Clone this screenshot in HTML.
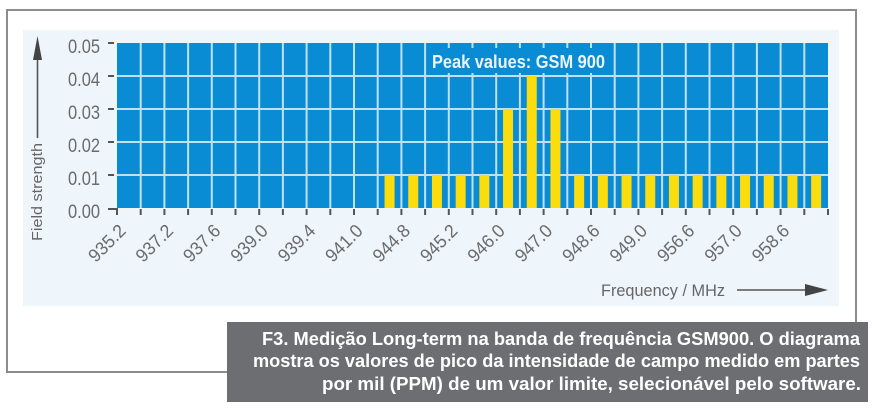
<!DOCTYPE html>
<html><head><meta charset="utf-8"><style>
html,body{margin:0;padding:0;background:#fff;}
svg{display:block;}
</style></head><body>
<svg width="873" height="413" viewBox="0 0 873 413" xmlns="http://www.w3.org/2000/svg">
<rect x="0" y="0" width="873" height="413" fill="#ffffff"/>
<!-- outer border -->
<g stroke="#8c8c8c" stroke-width="2" fill="none">
<line x1="6" y1="10" x2="857" y2="10"/>
<line x1="7" y1="10" x2="7" y2="373"/>
<line x1="6" y1="372" x2="228" y2="372"/>
<line x1="856" y1="9" x2="856" y2="323"/>
</g>
<!-- light panel -->
<rect x="23" y="30" width="816" height="276" fill="#eef5fb"/>
<!-- plot -->
<rect x="117" y="43" width="711" height="165" fill="#0a8cd4"/>
<g stroke="#bfe0f5" stroke-width="2">
<line x1="117" y1="76" x2="828" y2="76"/>
<line x1="117" y1="109" x2="828" y2="109"/>
<line x1="117" y1="142" x2="828" y2="142"/>
<line x1="117" y1="175" x2="828" y2="175"/>
<line x1="140.7" y1="43" x2="140.7" y2="208"/>
<line x1="164.4" y1="43" x2="164.4" y2="208"/>
<line x1="188.1" y1="43" x2="188.1" y2="208"/>
<line x1="211.8" y1="43" x2="211.8" y2="208"/>
<line x1="235.5" y1="43" x2="235.5" y2="208"/>
<line x1="259.2" y1="43" x2="259.2" y2="208"/>
<line x1="282.9" y1="43" x2="282.9" y2="208"/>
<line x1="306.6" y1="43" x2="306.6" y2="208"/>
<line x1="330.3" y1="43" x2="330.3" y2="208"/>
<line x1="354" y1="43" x2="354" y2="208"/>
<line x1="377.7" y1="43" x2="377.7" y2="208"/>
<line x1="401.4" y1="43" x2="401.4" y2="208"/>
<line x1="425.1" y1="43" x2="425.1" y2="208"/>
<line x1="448.8" y1="43" x2="448.8" y2="208"/>
<line x1="472.5" y1="43" x2="472.5" y2="208"/>
<line x1="496.2" y1="43" x2="496.2" y2="208"/>
<line x1="519.9" y1="43" x2="519.9" y2="208"/>
<line x1="543.6" y1="43" x2="543.6" y2="208"/>
<line x1="567.3" y1="43" x2="567.3" y2="208"/>
<line x1="591" y1="43" x2="591" y2="208"/>
<line x1="614.7" y1="43" x2="614.7" y2="208"/>
<line x1="638.4" y1="43" x2="638.4" y2="208"/>
<line x1="662.1" y1="43" x2="662.1" y2="208"/>
<line x1="685.8" y1="43" x2="685.8" y2="208"/>
<line x1="709.5" y1="43" x2="709.5" y2="208"/>
<line x1="733.2" y1="43" x2="733.2" y2="208"/>
<line x1="756.9" y1="43" x2="756.9" y2="208"/>
<line x1="780.6" y1="43" x2="780.6" y2="208"/>
<line x1="804.3" y1="43" x2="804.3" y2="208"/>
</g>
<!-- label background -->
<rect x="428" y="48" width="182" height="25" fill="#0a8cd4"/>
<text x="432" y="68" font-family="Liberation Sans, sans-serif" font-weight="bold" font-size="18" fill="#eaf4fb" textLength="173" lengthAdjust="spacingAndGlyphs">Peak values: GSM 900</text>
<!-- bars -->
<g fill="#fbdc0c">
<rect x="384.55" y="175" width="10" height="33"/>
<rect x="408.25" y="175" width="10" height="33"/>
<rect x="431.95" y="175" width="10" height="33"/>
<rect x="455.65" y="175" width="10" height="33"/>
<rect x="479.35" y="175" width="10" height="33"/>
<rect x="503.05" y="109" width="10" height="99"/>
<rect x="526.75" y="76" width="10" height="132"/>
<rect x="550.45" y="109" width="10" height="99"/>
<rect x="574.15" y="175" width="10" height="33"/>
<rect x="597.85" y="175" width="10" height="33"/>
<rect x="621.55" y="175" width="10" height="33"/>
<rect x="645.25" y="175" width="10" height="33"/>
<rect x="668.95" y="175" width="10" height="33"/>
<rect x="692.65" y="175" width="10" height="33"/>
<rect x="716.35" y="175" width="10" height="33"/>
<rect x="740.05" y="175" width="10" height="33"/>
<rect x="763.75" y="175" width="10" height="33"/>
<rect x="787.45" y="175" width="10" height="33"/>
<rect x="811.15" y="175" width="10" height="33"/>
</g>
<!-- ticks -->
<g stroke="#555" stroke-width="2">
<line x1="108" y1="43" x2="114" y2="43"/>
<line x1="108" y1="76" x2="114" y2="76"/>
<line x1="108" y1="109" x2="114" y2="109"/>
<line x1="108" y1="142" x2="114" y2="142"/>
<line x1="108" y1="175" x2="114" y2="175"/>
<line x1="108" y1="209" x2="117" y2="209"/>
<line x1="117" y1="208" x2="117" y2="215"/>
<line x1="140.7" y1="209" x2="140.7" y2="215"/>
<line x1="164.4" y1="209" x2="164.4" y2="215"/>
<line x1="188.1" y1="209" x2="188.1" y2="215"/>
<line x1="211.8" y1="209" x2="211.8" y2="215"/>
<line x1="235.5" y1="209" x2="235.5" y2="215"/>
<line x1="259.2" y1="209" x2="259.2" y2="215"/>
<line x1="282.9" y1="209" x2="282.9" y2="215"/>
<line x1="306.6" y1="209" x2="306.6" y2="215"/>
<line x1="330.3" y1="209" x2="330.3" y2="215"/>
<line x1="354" y1="209" x2="354" y2="215"/>
<line x1="377.7" y1="209" x2="377.7" y2="215"/>
<line x1="401.4" y1="209" x2="401.4" y2="215"/>
<line x1="425.1" y1="209" x2="425.1" y2="215"/>
<line x1="448.8" y1="209" x2="448.8" y2="215"/>
<line x1="472.5" y1="209" x2="472.5" y2="215"/>
<line x1="496.2" y1="209" x2="496.2" y2="215"/>
<line x1="519.9" y1="209" x2="519.9" y2="215"/>
<line x1="543.6" y1="209" x2="543.6" y2="215"/>
<line x1="567.3" y1="209" x2="567.3" y2="215"/>
<line x1="591" y1="209" x2="591" y2="215"/>
<line x1="614.7" y1="209" x2="614.7" y2="215"/>
<line x1="638.4" y1="209" x2="638.4" y2="215"/>
<line x1="662.1" y1="209" x2="662.1" y2="215"/>
<line x1="685.8" y1="209" x2="685.8" y2="215"/>
<line x1="709.5" y1="209" x2="709.5" y2="215"/>
<line x1="733.2" y1="209" x2="733.2" y2="215"/>
<line x1="756.9" y1="209" x2="756.9" y2="215"/>
<line x1="780.6" y1="209" x2="780.6" y2="215"/>
<line x1="804.3" y1="209" x2="804.3" y2="215"/>
<line x1="828" y1="209" x2="828" y2="215"/>
</g>
<!-- y labels -->
<g font-family="Liberation Sans, sans-serif" font-size="19" fill="#6b6b6b" text-anchor="end">
<text x="100" y="53" textLength="32" lengthAdjust="spacingAndGlyphs">0.05</text>
<text x="100" y="86" textLength="32" lengthAdjust="spacingAndGlyphs">0.04</text>
<text x="100" y="119" textLength="32" lengthAdjust="spacingAndGlyphs">0.03</text>
<text x="100" y="152" textLength="32" lengthAdjust="spacingAndGlyphs">0.02</text>
<text x="100" y="185" textLength="32" lengthAdjust="spacingAndGlyphs">0.01</text>
<text x="100" y="218" textLength="32" lengthAdjust="spacingAndGlyphs">0.00</text>
</g>
<!-- x labels -->
<g font-family="Liberation Sans, sans-serif" font-size="18.5" fill="#6b6b6b" text-anchor="end">
<text transform="translate(126.9,232) rotate(-45)" textLength="44" lengthAdjust="spacingAndGlyphs">935.2</text>
<text transform="translate(174.3,232) rotate(-45)" textLength="44" lengthAdjust="spacingAndGlyphs">937.2</text>
<text transform="translate(221.7,232) rotate(-45)" textLength="44" lengthAdjust="spacingAndGlyphs">937.6</text>
<text transform="translate(269.1,232) rotate(-45)" textLength="44" lengthAdjust="spacingAndGlyphs">939.0</text>
<text transform="translate(316.5,232) rotate(-45)" textLength="44" lengthAdjust="spacingAndGlyphs">939.4</text>
<text transform="translate(363.9,232) rotate(-45)" textLength="44" lengthAdjust="spacingAndGlyphs">941.0</text>
<text transform="translate(411.3,232) rotate(-45)" textLength="44" lengthAdjust="spacingAndGlyphs">944.8</text>
<text transform="translate(458.7,232) rotate(-45)" textLength="44" lengthAdjust="spacingAndGlyphs">945.2</text>
<text transform="translate(506.1,232) rotate(-45)" textLength="44" lengthAdjust="spacingAndGlyphs">946.0</text>
<text transform="translate(553.5,232) rotate(-45)" textLength="44" lengthAdjust="spacingAndGlyphs">947.0</text>
<text transform="translate(600.9,232) rotate(-45)" textLength="44" lengthAdjust="spacingAndGlyphs">948.6</text>
<text transform="translate(648.3,232) rotate(-45)" textLength="44" lengthAdjust="spacingAndGlyphs">949.0</text>
<text transform="translate(695.7,232) rotate(-45)" textLength="44" lengthAdjust="spacingAndGlyphs">956.6</text>
<text transform="translate(743.1,232) rotate(-45)" textLength="44" lengthAdjust="spacingAndGlyphs">957.0</text>
<text transform="translate(790.5,232) rotate(-45)" textLength="44" lengthAdjust="spacingAndGlyphs">958.6</text>
</g>
<!-- Field strength axis title + arrow -->
<text transform="translate(42,241) rotate(-90)" font-family="Liberation Sans, sans-serif" font-size="15" fill="#666" textLength="98" lengthAdjust="spacingAndGlyphs">Field strength</text>
<line x1="37.5" y1="58" x2="37.5" y2="138" stroke="#555" stroke-width="1.6"/>
<polygon points="37.5,36 33,60 42,60" fill="#444"/>
<!-- Frequency axis title + arrow -->
<text x="601" y="296" font-family="Liberation Sans, sans-serif" font-size="17" fill="#666" textLength="124" lengthAdjust="spacingAndGlyphs">Frequency / MHz</text>
<line x1="737" y1="290" x2="810" y2="290" stroke="#555" stroke-width="1.6"/>
<polygon points="828,290 805,284 805,296" fill="#444"/>
<!-- caption -->
<rect x="227" y="322" width="641" height="80" fill="#6d6e71"/>
<g font-family="Liberation Sans, sans-serif" font-weight="bold" font-size="18" fill="#ffffff">
<text x="262" y="345" textLength="598" lengthAdjust="spacingAndGlyphs">F3. Medição Long-term na banda de frequência GSM900. O diagrama</text>
<text x="253" y="367" textLength="607" lengthAdjust="spacingAndGlyphs">mostra os valores de pico da intensidade de campo medido em partes</text>
<text x="322" y="390" textLength="539" lengthAdjust="spacingAndGlyphs">por mil (PPM) de um valor limite, selecionável pelo software.</text>
</g>
</svg>
</body></html>
